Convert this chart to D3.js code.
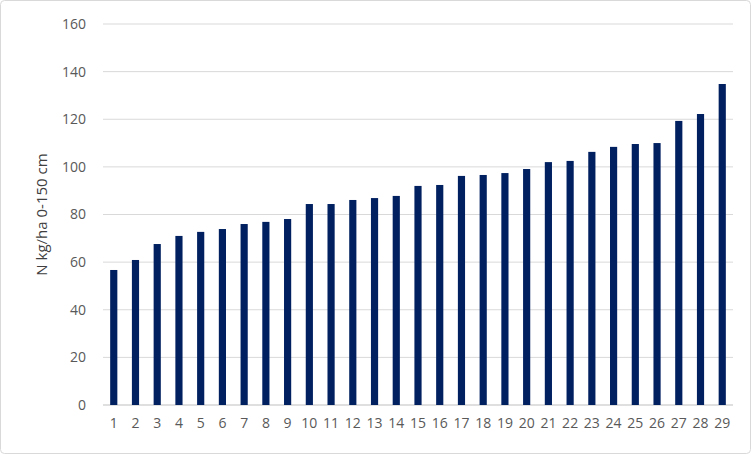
<!DOCTYPE html>
<html><head><meta charset="utf-8">
<script src="https://cdn.jsdelivr.net/npm/d3@7"></script>
<style>body{margin:0;background:#fff}</style>
</head><body>
<div id="chart"></div>
<script>
// data
const categories = d3.range(1, 30).map(String);
const values = [56.7, 60.9, 67.6, 71, 72.7, 73.9, 76, 76.9, 78.1, 84.4, 84.4, 86.1, 86.9, 87.8,
  92, 92.4, 96.2, 96.6, 97.4, 99.1, 102, 102.5, 106.3, 108.4, 109.6, 110, 119.3, 122.2, 134.8];
const yTicks = [0, 20, 40, 60, 80, 100, 120, 140, 160];

const WIDTH = 751, HEIGHT = 454;
const MARGINS = {left: 103, right: 18, top: 24, bottom: 49};
const FONT = "'Open Sans', 'Liberation Sans', sans-serif";

const svg = d3.select("#chart").append("svg")
  .attr("width", WIDTH).attr("height", HEIGHT);

svg.append("rect")
  .attr("x", 0.5).attr("y", 0.5).attr("width", WIDTH - 1).attr("height", HEIGHT - 1)
  .attr("rx", 4).attr("fill", "#fff").attr("stroke", "#d9d9d9");

const x = d3.scaleBand().domain(categories)
  .range([MARGINS.left, WIDTH - MARGINS.right]).paddingInner(0.67).paddingOuter(0.33);
const y = d3.scaleLinear().domain([0, 160])
  .range([HEIGHT - MARGINS.bottom, MARGINS.top]);

// gridlines
svg.append("g").selectAll("line").data(yTicks).join("line")
  .attr("x1", MARGINS.left).attr("x2", WIDTH - MARGINS.right)
  .attr("y1", d => y(d)).attr("y2", d => y(d))
  .attr("stroke", d => d === 0 ? "#bfbfbf" : "#d9d9d9");

// bars
svg.append("g").selectAll("rect").data(values).join("rect")
  .attr("x", (d, i) => x(categories[i]))
  .attr("y", d => y(d))
  .attr("width", x.bandwidth())
  .attr("height", d => y(0) - y(d))
  .attr("fill", "#002060");

// y axis
const yAxis = svg.append("g")
  .attr("transform", "translate(" + (MARGINS.left - 14) + ",0)")
  .call(d3.axisLeft(y).tickValues(yTicks).tickSize(0));
yAxis.select(".domain").remove();
yAxis.selectAll("text").attr("font-family", FONT)
  .attr("font-size", "14px").attr("fill", "#595959");

// x axis
const xAxis = svg.append("g")
  .attr("transform", "translate(0," + (HEIGHT - MARGINS.bottom + 10) + ")")
  .call(d3.axisBottom(x).tickSize(0));
xAxis.select(".domain").remove();
xAxis.selectAll("text").attr("font-family", FONT)
  .attr("font-size", "14px").attr("fill", "#595959");

// y label
svg.append("text")
  .attr("transform", "translate(47," + (y(80)) + ") rotate(-90)")
  .attr("text-anchor", "middle")
  .attr("font-family", FONT)
  .attr("font-size", "15px").attr("fill", "#404040")
  .text("N kg/ha 0-150 cm");
</script>
</body></html>
